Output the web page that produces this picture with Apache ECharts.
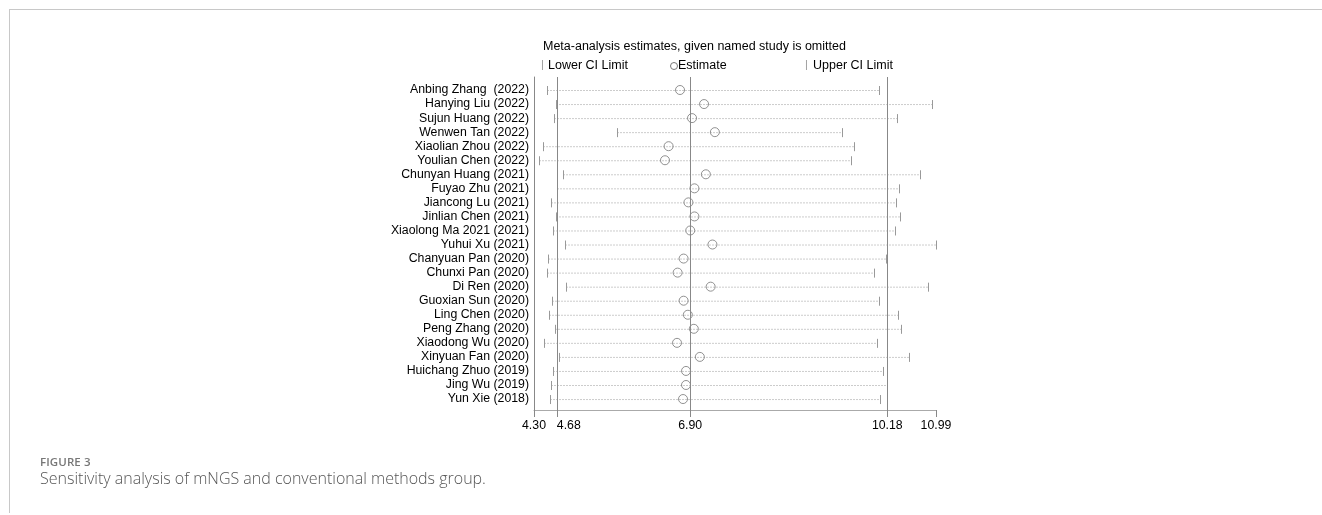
<!DOCTYPE html>
<html>
<head>
<meta charset="utf-8">
<script src="https://cdn.jsdelivr.net/npm/echarts@6/dist/echarts.min.js"></script>
<style>
  html, body { margin: 0; padding: 0; background: #fff; }
  #wrap { position: relative; width: 1322px; height: 515px; overflow: hidden; }
  #card { position: absolute; left: 9px; top: 9px; right: -2px; bottom: 2px;
          border-top: 1px solid #c8c8c8; border-left: 1px solid #c8c8c8; }
  #chart { position: absolute; left: 0; top: 0; width: 1322px; height: 515px; }
  .fig { position: absolute; left: 40px; top: 454px; font-family: "Open Sans", sans-serif;
         font-size: 11.5px; font-weight: 600; color: #777; letter-spacing: 0.1px; }
  .cap { position: absolute; left: 40px; top: 467px; font-family: "Open Sans", sans-serif;
         font-size: 16px; font-weight: 300; color: #555; }
</style>
</head>
<body>
<div id="wrap">
  <div id="card"></div>
  <div id="chart"></div>
  <div class="fig">FIGURE 3</div>
  <div class="cap">Sensitivity analysis of mNGS and conventional methods group.</div>
</div>
<script>
// studies, top to bottom
const studies = [
  'Anbing Zhang  (2022)', 'Hanying Liu (2022)', 'Sujun Huang (2022)', 'Wenwen Tan (2022)',
  'Xiaolian Zhou (2022)', 'Youlian Chen (2022)', 'Chunyan Huang (2021)', 'Fuyao Zhu (2021)',
  'Jiancong Lu (2021)', 'Jinlian Chen (2021)', 'Xiaolong Ma 2021 (2021)', 'Yuhui Xu (2021)',
  'Chanyuan Pan (2020)', 'Chunxi Pan (2020)', 'Di Ren (2020)', 'Guoxian Sun (2020)',
  'Ling Chen (2020)', 'Peng Zhang (2020)', 'Xiaodong Wu (2020)', 'Xinyuan Fan (2020)',
  'Huichang Zhuo (2019)', 'Jing Wu (2019)', 'Yun Xie (2018)'
]
const lowerCI = [4.52, 4.66, 4.64, 5.68, 4.45, 4.39, 4.79, 4.68, 4.58, 4.67, 4.61, 4.82,
  4.53, 4.52, 4.83, 4.60, 4.55, 4.65, 4.47, 4.72, 4.61, 4.58, 4.56]
const estimate = [6.73, 7.13, 6.93, 7.31, 6.54, 6.48, 7.16, 6.97, 6.87, 6.97, 6.90, 7.27,
  6.79, 6.69, 7.24, 6.79, 6.86, 6.96, 6.68, 7.06, 6.83, 6.83, 6.78]
const upperCI = [10.04, 10.93, 10.34, 9.43, 9.62, 9.58, 10.73, 10.38, 10.32, 10.39, 10.31, 10.99,
  10.15, 9.96, 10.85, 10.04, 10.36, 10.41, 10.00, 10.54, 10.10, 10.17, 10.05]
// pooled lower CI, estimate, upper CI
const refLines = [4.68, 6.90, 10.18]
const xTicks = [4.30, 4.68, 6.90, 10.18, 10.99]

const rowIdx = studies.map((s, i) => i)
const font = '"Liberation Sans", Arial, sans-serif'
// 4.68 sits too close to 4.30, so its label goes on a second axis, left aligned
const crowded = [4.68]
const mainLabels = xTicks.filter(v => !crowded.includes(v))
const fmt2 = v => Number(v).toFixed(2)

const chart = echarts.init(document.getElementById('chart'))

// dotted CI line with short caps at both ends
const ciRender = (params, api) => {
  const y = api.value(2)
  const p1 = api.coord([api.value(0), y])
  const p2 = api.coord([api.value(1), y])
  const st = { stroke: '#999', lineWidth: 1 }
  const x1 = Math.round(p1[0]) + 0.5
  const x2 = Math.round(p2[0]) + 0.5
  return {
    type: 'group',
    children: [
      { type: 'line', shape: { x1: x1, y1: p1[1] + 0.5, x2: x2, y2: p2[1] + 0.5 },
        style: { stroke: '#999', lineWidth: 1, lineDash: [1, 2] } },
      { type: 'line', shape: { x1: x1, y1: p1[1] - 4, x2: x1, y2: p1[1] + 5 }, style: st },
      { type: 'line', shape: { x1: x2, y1: p2[1] - 4, x2: x2, y2: p2[1] + 5 }, style: st }
    ]
  }
}

const labelBase = { margin: 10, color: '#000', fontFamily: font, fontSize: 12.3, hideOverlap: false }

const option = {
  animation: false,
  grid: { left: 534, right: 386, top: 77, bottom: 105 },
  xAxis: [
    {
      type: 'value',
      min: 4.30,
      max: 10.99,
      axisLine: { show: true, onZero: false, lineStyle: { color: '#aaa', width: 1 } },
      axisTick: { show: true, customValues: xTicks, length: 7, lineStyle: { color: '#888' } },
      axisLabel: Object.assign({}, labelBase, {
        customValues: mainLabels,
        formatter: fmt2
      }),
      splitLine: { show: false }
    },
    {
      type: 'value',
      position: 'bottom',
      offset: 0,
      min: 4.30,
      max: 10.99,
      axisLine: { show: false, onZero: false },
      axisTick: { show: false },
      axisLabel: Object.assign({}, labelBase, {
        customValues: crowded,
        align: 'left',
        formatter: fmt2
      }),
      splitLine: { show: false }
    }
  ],
  yAxis: {
    type: 'value',
    inverse: true,
    min: -0.926,
    max: 22.78,
    axisLine: { show: true, onZero: false, lineStyle: { color: '#888', width: 1 } },
    axisTick: { show: false },
    splitLine: { show: false },
    axisLabel: {
      customValues: rowIdx, margin: 5, color: '#000', fontFamily: font, fontSize: 12.3,
      showMinLabel: true, showMaxLabel: true,
      formatter: v => studies[Math.round(v)]
    }
  },
  graphic: [
    { type: 'text', left: 543, top: 40, style: { text: 'Meta-analysis estimates, given named study is omitted', font: '12.5px ' + font, fill: '#000' } },
    { type: 'text', left: 541, top: 59, style: { text: '|', font: '11px ' + font, fill: '#999' } },
    { type: 'text', left: 548, top: 59, style: { text: 'Lower CI Limit', font: '12.5px ' + font, fill: '#000' } },
    { type: 'circle', shape: { cx: 674, cy: 66, r: 3.5 }, style: { fill: 'none', stroke: '#777', lineWidth: 1 } },
    { type: 'text', left: 678, top: 59, style: { text: 'Estimate', font: '12.5px ' + font, fill: '#000' } },
    { type: 'text', left: 805, top: 59, style: { text: '|', font: '11px ' + font, fill: '#999' } },
    { type: 'text', left: 813, top: 59, style: { text: 'Upper CI Limit', font: '12.5px ' + font, fill: '#000' } }
  ],
  series: [
    {
      type: 'custom',
      renderItem: ciRender,
      encode: { x: [0, 1], y: 2 },
      data: studies.map((s, i) => [lowerCI[i], upperCI[i], i]),
      silent: true,
      z: 2
    },
    {
      type: 'scatter',
      data: studies.map((s, i) => [estimate[i], i]),
      symbol: 'circle',
      symbolSize: 9,
      itemStyle: { color: 'rgba(255,255,255,0)', borderColor: '#777', borderWidth: 1 },
      silent: true,
      z: 3,
      markLine: {
        silent: true,
        symbol: 'none',
        label: { show: false },
        lineStyle: { color: '#888', type: 'solid', width: 1 },
        data: refLines.map(v => ({ xAxis: v }))
      }
    }
  ]
}

chart.setOption(option)
</script>
</body>
</html>
